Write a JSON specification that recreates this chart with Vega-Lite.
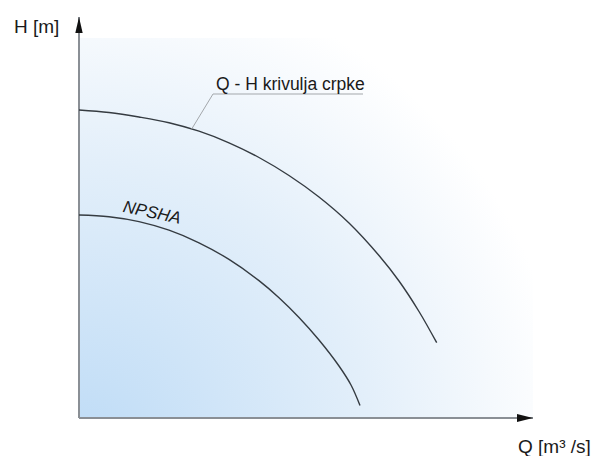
{
  "$schema": "https://vega.github.io/schema/vega-lite/v6.json",
  "width": 454,
  "height": 401,
  "autosize": {"type": "none"},
  "padding": {"left": 79, "top": 17, "right": 62, "bottom": 38},
  "background": "white",
  "config": {"view": {"stroke": null}},
  "layer": [
    {
      "data": {"values": [{"x": 0, "x2": 454, "y": 0, "y2": 380}]},
      "mark": {
        "type": "rect",
        "clip": false,
        "fill": {
          "gradient": "radial",
          "x1": 0, "y1": 1, "r1": 0,
          "x2": 0, "y2": 1, "r2": 1.08,
          "stops": [
            {"offset": 0, "color": "#bddbf6"},
            {"offset": 0.3, "color": "#d0e5f8"},
            {"offset": 0.6, "color": "#e3effa"},
            {"offset": 0.85, "color": "#f5f9fd"},
            {"offset": 1, "color": "#ffffff"}
          ]
        }
      },
      "encoding": {
        "x": {"field": "x", "type": "quantitative", "axis": null, "scale": {"domain": [0, 454], "nice": false, "zero": false}},
        "x2": {"field": "x2"},
        "y": {"field": "y", "type": "quantitative", "axis": null, "scale": {"domain": [0, 401], "nice": false, "zero": false}},
        "y2": {"field": "y2"}
      }
    },
    {
      "data": {"values": [
        {"x": 0, "y": 0, "x2": 454, "y2": 0},
        {"x": 0, "y": 0, "x2": 0, "y2": 401}
      ]},
      "mark": {"type": "rule", "color": "#8a8f95", "strokeWidth": 2, "clip": false},
      "encoding": {
        "x": {"field": "x", "type": "quantitative", "axis": null},
        "x2": {"field": "x2"},
        "y": {"field": "y", "type": "quantitative", "axis": null},
        "y2": {"field": "y2"}
      }
    },
    {
      "data": {"values": [{"x": 0, "y": 401}]},
      "mark": {"type": "point", "shape": "M0,0L0.46,2L-0.46,2Z", "filled": true, "size": 256, "color": "#111111", "opacity": 1, "strokeWidth": 0, "clip": false},
      "encoding": {
        "x": {"field": "x", "type": "quantitative", "axis": null},
        "y": {"field": "y", "type": "quantitative", "axis": null}
      }
    },
    {
      "data": {"values": [{"x": 454, "y": 0}]},
      "mark": {"type": "point", "shape": "M0,0L-2,-0.5L-2,0.5Z", "filled": true, "size": 256, "color": "#111111", "opacity": 1, "strokeWidth": 0, "clip": false},
      "encoding": {
        "x": {"field": "x", "type": "quantitative", "axis": null},
        "y": {"field": "y", "type": "quantitative", "axis": null}
      }
    },
    {
      "data": {"values": [
        {"curve": "QH", "x": 0, "y": 308},
        {"curve": "QH", "x": 30, "y": 305.5},
        {"curve": "QH", "x": 60, "y": 301},
        {"curve": "QH", "x": 90, "y": 295.3},
        {"curve": "QH", "x": 120, "y": 286.8},
        {"curve": "QH", "x": 150, "y": 275.2},
        {"curve": "QH", "x": 180, "y": 260.5},
        {"curve": "QH", "x": 210, "y": 242.5},
        {"curve": "QH", "x": 240, "y": 221},
        {"curve": "QH", "x": 270, "y": 195},
        {"curve": "QH", "x": 300, "y": 162.5},
        {"curve": "QH", "x": 320, "y": 137},
        {"curve": "QH", "x": 340, "y": 106.5},
        {"curve": "QH", "x": 357.7, "y": 75.3},
        {"curve": "NPSHA", "x": 0, "y": 203},
        {"curve": "NPSHA", "x": 30, "y": 201.3},
        {"curve": "NPSHA", "x": 60, "y": 196.4},
        {"curve": "NPSHA", "x": 90, "y": 187.8},
        {"curve": "NPSHA", "x": 120, "y": 175.2},
        {"curve": "NPSHA", "x": 150, "y": 158.6},
        {"curve": "NPSHA", "x": 180, "y": 137.4},
        {"curve": "NPSHA", "x": 200, "y": 120.3},
        {"curve": "NPSHA", "x": 220, "y": 100.5},
        {"curve": "NPSHA", "x": 240, "y": 78},
        {"curve": "NPSHA", "x": 260, "y": 52},
        {"curve": "NPSHA", "x": 272, "y": 33},
        {"curve": "NPSHA", "x": 281, "y": 12.5}
      ]},
      "mark": {"type": "line", "interpolate": "catmull-rom", "color": "#353b41", "strokeWidth": 1.4},
      "encoding": {
        "x": {"field": "x", "type": "quantitative", "axis": null},
        "y": {"field": "y", "type": "quantitative", "axis": null},
        "detail": {"field": "curve", "type": "nominal"}
      }
    },
    {
      "data": {"values": [
        {"i": 0, "x": 112.7, "y": 289},
        {"i": 1, "x": 134, "y": 324},
        {"i": 2, "x": 284, "y": 324}
      ]},
      "mark": {"type": "line", "color": "#a3a7ab", "strokeWidth": 1},
      "encoding": {
        "x": {"field": "x", "type": "quantitative", "axis": null},
        "y": {"field": "y", "type": "quantitative", "axis": null},
        "order": {"field": "i", "type": "quantitative"}
      }
    },
    {
      "data": {"values": [{"x": 137, "y": 328, "label": "Q - H krivulja crpke"}]},
      "mark": {"type": "text", "align": "left", "baseline": "alphabetic", "font": "Liberation Sans", "fontSize": 17.5, "color": "#1a1a1a", "clip": false},
      "encoding": {
        "x": {"field": "x", "type": "quantitative", "axis": null},
        "y": {"field": "y", "type": "quantitative", "axis": null},
        "text": {"field": "label"}
      }
    },
    {
      "data": {"values": [{"x": 73, "y": 205, "label": "NPSHA"}]},
      "mark": {"type": "text", "align": "center", "baseline": "middle", "font": "Liberation Sans", "fontStyle": "italic", "fontSize": 17, "angle": 12, "color": "#1a1a1a", "clip": false},
      "encoding": {
        "x": {"field": "x", "type": "quantitative", "axis": null},
        "y": {"field": "y", "type": "quantitative", "axis": null},
        "text": {"field": "label"}
      }
    },
    {
      "data": {"values": [
        {"x": -65, "y": 385, "label": "H [m]"},
        {"x": 439, "y": -35, "label": "Q [m³ /s]"}
      ]},
      "mark": {"type": "text", "align": "left", "baseline": "alphabetic", "font": "Liberation Sans", "fontSize": 19, "color": "#1a1a1a", "clip": false},
      "encoding": {
        "x": {"field": "x", "type": "quantitative", "axis": null},
        "y": {"field": "y", "type": "quantitative", "axis": null},
        "text": {"field": "label"}
      }
    }
  ]
}
